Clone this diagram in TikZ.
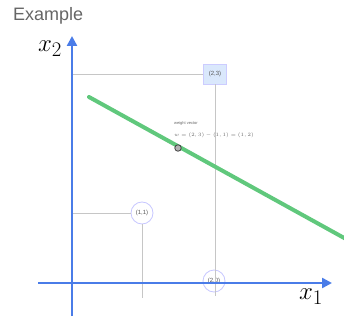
\documentclass[tikz,border=0pt]{standalone}
\usepackage{fontspec}
\setsansfont{Liberation Sans}
\usetikzlibrary{arrows.meta, positioning}
\definecolor{axisblue}{RGB}{74,124,232}
\definecolor{linegreen}{RGB}{96,200,124}
\definecolor{boxblue}{RGB}{218,232,252}
\tikzset{
  axis/.style={draw=axisblue, line width=2.4pt, -{Triangle[length=10pt,width=10pt]}},
  guide/.style={draw=gray!45, line width=0.9pt},
  ptcircle/.style={circle, draw=blue!22, line width=0.8pt, fill=white, fill opacity=0.55, text opacity=1,
                   minimum size=22pt, inner sep=0pt, font=\sffamily\fontsize{6}{6}\selectfont, text=gray!70!black},
  ptbox/.style={rectangle, draw=blue!20, fill=boxblue, minimum width=23pt, minimum height=20pt,
                inner sep=0pt, font=\sffamily\fontsize{6}{6}\selectfont, text=gray!70!black},
  axlabel/.style={font=\fontsize{30}{30}\selectfont},
  note/.style={anchor=west, inner sep=0pt, font=\sffamily\fontsize{4}{4}\selectfont, text=gray!80!black},
}
\begin{document}
\begin{tikzpicture}[x=1pt, y=-1pt]
  \useasboundingbox (0,0) rectangle (344,328);
  \node[anchor=west, inner sep=0pt, font=\sffamily\fontsize{18}{18}\selectfont, text=gray!80!black] (title) at (13,16) {Example};

  % axes end points and guide corners
  \coordinate (xstart) at (38,283);
  \coordinate (xend)   at (332,283);
  \coordinate (ystart) at (72,316);
  \coordinate (yend)   at (72,36);
  \coordinate (g23)    at (72,74);
  \coordinate (g11)    at (72,213);
  \coordinate (b23)    at (215,296);
  \coordinate (b11)    at (142,298);

  % points
  \node[ptcircle] (p11) at (142,213) {(1,1)};
  \node[ptcircle] (p20) at (214,281) {(2,0)};
  \node[ptbox]    (p23) at (215,74)  {(2,3)};

  \draw[guide] (g23) -- (p23.west);
  \draw[guide] (p23.south) -- (b23);
  \draw[guide] (g11) -- (p11.west);
  \draw[guide] (p11.south) -- (b11);

  % separating line
  \coordinate (lstart) at (89,97);
  \coordinate (lend)   at (346,239);
  \draw[linegreen, line width=4pt, line cap=round] (lstart) -- (lend);

  \draw[axis] (xstart) -- (xend);
  \draw[axis] (ystart) -- (yend);
  \node[axlabel] (xlab1) at (311,297) {$x_1$};
  \node[axlabel] (xlab2) at (50,49)   {$x_2$};

  % weight vector
  \node[circle, draw=black!75, fill=gray!60, line width=0.8pt, minimum size=6.5pt, inner sep=0pt] (mid) at (178,148) {};
  \node[note] (wt) at (174,123) {weight vector};
  \node[note] (weq) at (174,135) {$w=(2,3)-(1,1)=(1,2)$};
\end{tikzpicture}
\end{document}
